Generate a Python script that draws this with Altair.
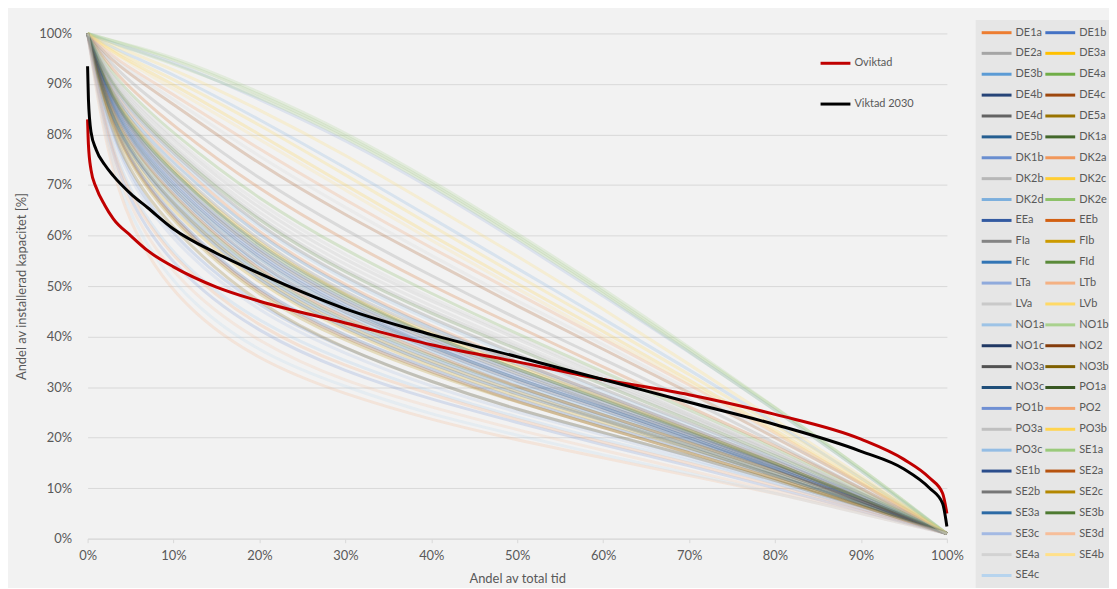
import altair as alt
import pandas as pd

# x positions (share of total time, %) where the regional curves were read
X_PTS = [0, 3, 10, 20, 30, 40, 50, 60, 70, 80, 90, 100]

DE1a = [100, 87, 75, 60, 50, 42, 35, 28.5, 22, 15.5, 8.5, 1]
DE1b = [100, 84, 70, 55.5, 46, 38.5, 32, 26.5, 20.5, 14.5, 8, 1]
DE2a = [100, 89, 77, 63, 53, 45, 38, 31, 24, 17, 9, 1]
DE3a = [100, 86, 72.5, 58, 48, 40.5, 34, 28, 21.5, 15, 8, 1]
DE3b = [100, 82, 68, 53, 44, 37, 30.5, 25, 19.5, 13.5, 7.5, 1]
DE4a = [100, 91, 80, 67, 57, 48.5, 40.5, 33, 25.5, 18, 9.5, 1]
DE4b = [100, 85, 71, 56.5, 47, 39.5, 33, 27, 21, 14.5, 8, 1]
DE4c = [100, 94, 86, 74, 64, 55, 46, 37.5, 29, 20, 11, 1]
DE4d = [100, 88, 76, 61.5, 51.5, 43.5, 36.5, 29.5, 23, 16, 8.5, 1]
DE5a = [100, 80.5, 65.5, 51, 42, 35, 29, 23.5, 18.5, 13, 7, 1]
DE5b = [100, 83, 69, 54.5, 45, 38, 31.5, 26, 20, 14, 7.5, 1]
DK1a = [100, 81, 67, 52, 43, 36, 30, 24.5, 19, 13.5, 7.5, 1]
DK1b = [100, 76, 59, 45.5, 37.5, 31, 25.5, 21, 16.5, 11.5, 6.5, 1]
DK2a = [100, 95, 88, 77, 67, 57.5, 48.5, 39.5, 30.5, 21, 11, 1]
DK2b = [100, 90, 78.5, 65, 55, 47, 39.5, 32, 24.5, 17.5, 9, 1]
DK2c = [100, 96, 90, 80, 70, 60, 50.5, 41, 31.5, 21.5, 11.5, 1]
DK2d = [100, 97, 92, 83, 73.5, 63.5, 53.5, 43.5, 33.5, 23, 12, 1]
DK2e = [100, 98.5, 95, 88, 80, 70.5, 60, 49, 37.5, 26, 14, 1]
EEa = [100, 79, 63, 48.5, 40, 33.5, 27.5, 22.5, 17.5, 12.5, 7, 1]
EEb = [100, 92, 81.5, 69, 59, 50, 42, 34, 26, 18.5, 10, 1]
FIa = [100, 93, 83.5, 71, 61, 52, 43.5, 35.5, 27.5, 19, 10, 1]
FIb = [100, 79.5, 64, 50, 41, 34, 28, 23, 18, 12.5, 7, 1]
FIc = [100, 86.5, 74, 59.5, 49.5, 41.5, 35, 28.5, 22, 15.5, 8.5, 1]
FId = [100, 85.5, 72, 57, 47.5, 40, 33.5, 27.5, 21.5, 15, 8, 1]
LTa = [100, 98, 94.5, 87, 79, 69.5, 59, 48, 37, 25.5, 13.5, 1]
LTb = [100, 67, 47, 35, 28.5, 23.5, 19.5, 16, 12.5, 9, 5, 1]
LVa = [100, 90.5, 79, 66, 56, 47.5, 40, 32.5, 25, 17.5, 9.5, 1]
LVb = [100, 97.5, 93, 85, 76, 66, 56, 45.5, 34.5, 23.5, 12.5, 1]
NO1a = [100, 73, 55, 42.5, 35, 29, 24, 19.5, 15.5, 11, 6, 1]
NO1b = [100, 98.5, 95.5, 88.5, 80.5, 71, 60.5, 49.5, 38, 26, 14, 1]
NO1c = [100, 82.5, 68.5, 53.5, 44.5, 37.5, 31, 25.5, 19.5, 14, 7.5, 1]
NO2 = [100, 78.5, 62.5, 48, 39.5, 33, 27, 22, 17, 12, 6.5, 1]
NO3a = [100, 84.5, 70.5, 56, 46.5, 39, 32.5, 26.5, 20.5, 14.5, 8, 1]
NO3b = [100, 76.5, 60.5, 46, 37.5, 31, 25.5, 21, 16.5, 11.5, 6.5, 1]
NO3c = [100, 80, 65, 50.5, 41.5, 34.5, 28.5, 23.5, 18, 12.5, 7, 1]
PO1a = [100, 85, 72, 57.5, 48, 40, 33.5, 27.5, 21, 15, 8, 1]
PO1b = [100, 71, 53, 40.5, 33, 27.5, 23, 18.5, 14.5, 10, 5.5, 1]
PO2 = [100, 72, 54.5, 41.5, 34, 28.5, 23.5, 19, 15, 10.5, 6, 1]
PO3a = [100, 89.5, 77.5, 64, 54, 46, 38.5, 31.5, 24.5, 17, 9, 1]
PO3b = [100, 96.5, 91, 82, 72, 62, 52, 42.5, 32.5, 22.5, 12, 1]
PO3c = [100, 87.5, 75.5, 61, 51, 43, 36, 29, 22.5, 16, 8.5, 1]
SE1a = [100, 98, 94, 87.5, 79.5, 70, 59.5, 48.5, 37, 25.5, 13.5, 1]
SE1b = [100, 83.5, 69.5, 55, 45.5, 38, 31.5, 26, 20, 14, 7.5, 1]
SE2a = [100, 81.5, 67.5, 52.5, 43.5, 36.5, 30, 24.5, 19, 13.5, 7.5, 1]
SE2b = [100, 86, 73, 58.5, 48.5, 41, 34.5, 28, 21.5, 15, 8, 1]
SE2c = [100, 78, 62, 47.5, 39, 32.5, 27, 22, 17, 12, 6.5, 1]
SE3a = [100, 80, 66, 51.5, 42.5, 35.5, 29.5, 24, 18.5, 13, 7, 1]
SE3b = [100, 88.5, 76.5, 62.5, 52.5, 44.5, 37.5, 30.5, 23.5, 16.5, 9, 1]
SE3c = [100, 75, 58, 44.5, 36.5, 30, 25, 20.5, 16, 11, 6, 1]
SE3d = [100, 70, 51, 38.5, 31, 26, 21.5, 17.5, 13.5, 9.5, 5.5, 1]
SE4a = [100, 94.5, 87, 75.5, 65.5, 56, 47, 38.5, 29.5, 20.5, 11, 1]
SE4b = [100, 96, 89, 79, 69, 59, 49.5, 40, 31, 21, 11, 1]
SE4c = [100, 68.5, 49, 36.5, 30, 24.5, 20.5, 16.5, 13, 9, 5, 1]

REGIONS = ["DE1a", "DE1b", "DE2a", "DE3a", "DE3b", "DE4a", "DE4b", "DE4c", "DE4d",
           "DE5a", "DE5b", "DK1a", "DK1b", "DK2a", "DK2b", "DK2c", "DK2d", "DK2e",
           "EEa", "EEb", "FIa", "FIb", "FIc", "FId", "LTa", "LTb", "LVa", "LVb",
           "NO1a", "NO1b", "NO1c", "NO2", "NO3a", "NO3b", "NO3c", "PO1a", "PO1b",
           "PO2", "PO3a", "PO3b", "PO3c", "SE1a", "SE1b", "SE2a", "SE2b", "SE2c",
           "SE3a", "SE3b", "SE3c", "SE3d", "SE4a", "SE4b", "SE4c"]
CURVES = [DE1a, DE1b, DE2a, DE3a, DE3b, DE4a, DE4b, DE4c, DE4d, DE5a, DE5b, DK1a,
          DK1b, DK2a, DK2b, DK2c, DK2d, DK2e, EEa, EEb, FIa, FIb, FIc, FId, LTa, LTb,
          LVa, LVb, NO1a, NO1b, NO1c, NO2, NO3a, NO3b, NO3c, PO1a, PO1b, PO2, PO3a,
          PO3b, PO3c, SE1a, SE1b, SE2a, SE2b, SE2c, SE3a, SE3b, SE3c, SE3d, SE4a,
          SE4b, SE4c]
COLORS = ["#ED7D31", "#4472C4", "#A5A5A5", "#FFC000", "#5B9BD5", "#70AD47",
          "#264478", "#9E480E", "#636363", "#997300", "#255E91", "#43682B",
          "#698ED0", "#F1975A", "#B7B7B7", "#FFCD33", "#7CAFDD", "#8CC168",
          "#335AA1", "#D26012", "#848484", "#CC9A00", "#3275B5", "#5A8A39",
          "#8FAADC", "#F4B183", "#C9C9C9", "#FFD966", "#9DC3E6", "#A9D18E",
          "#203864", "#843C0C", "#525252", "#7F6000", "#1F4E79", "#385723",
          "#6F8FD3", "#F4A46E", "#BFBFBF", "#FFD44F", "#94BDE4", "#9ACA7B",
          "#2B4D8C", "#B6530F", "#767676", "#B38700", "#2C6AA5", "#4E7A31",
          "#A3B9E3", "#F6BE9A", "#D2D2D2", "#FFE08A", "#B7D4EE"]

# bold aggregate curves
X_BOLD = [0, 0.1, 0.4, 1, 2, 3, 5, 7, 10, 15, 20, 30, 40, 50, 60, 70, 80, 90, 95, 98, 99.5, 100]
OVIKTAD = [83, 78, 73, 69.5, 66, 63.3, 60, 57, 53.8, 49.8, 47, 42.7, 38.4, 35, 31.5,
           28.5, 24.6, 19.7, 15.7, 12, 9, 5]
VIKTAD_2030 = [93.5, 87, 80.5, 77, 74, 71.8, 68.3, 65.5, 61.3, 56.5, 52.5, 45.5, 40.4, 36,
               31.5, 27, 22.6, 17.3, 13.8, 10, 7, 2.4]
BOLD_NAMES = ["Oviktad", "Viktad 2030"]
BOLD_COLORS = ["#C00000", "#000000"]

rows = []
for name, ys in zip(REGIONS, CURVES):
    for x, y in zip(X_PTS, ys):
        rows.append({"region": name, "x": x, "y": y})
df_regions = pd.DataFrame(rows)

bold_rows = []
for name, ys in zip(BOLD_NAMES, [OVIKTAD, VIKTAD_2030]):
    for x, y in zip(X_BOLD, ys):
        bold_rows.append({"series": name, "x": x, "y": y})
df_bold = pd.DataFrame(bold_rows)

# the legend is filled column by column, so order entries to read row by row
LEG_DOMAIN = REGIONS[0::2] + REGIONS[1::2]
LEG_RANGE = COLORS[0::2] + COLORS[1::2]

FONT = "Lato"
TXT = "#595959"
TICKS = list(range(0, 101, 10))

x_enc = alt.X(
    "x:Q",
    scale=alt.Scale(domain=[0, 100], nice=False, zero=False),
    axis=alt.Axis(values=TICKS, labelExpr="datum.value + '%'", title="Andel av total tid",
                  grid=False, domainColor="#d9d9d9", tickColor="#d9d9d9", tickSize=4,
                  labelFlush=False, labelPadding=7, labelFontSize=13, labelColor=TXT,
                  labelFont=FONT, titleFont=FONT, titleFontSize=13,
                  titleFontWeight="normal", titleColor=TXT,
                  titleY=40, titleBaseline="middle"),
)
y_enc = alt.Y(
    "y:Q",
    scale=alt.Scale(domain=[0, 100], nice=False),
    axis=alt.Axis(values=TICKS, labelExpr="datum.value + '%'",
                  title="Andel av installerad kapacitet [%]",
                  grid=True, gridColor="#d9d9d9", domain=False, ticks=False,
                  labelFlush=False, labelPadding=16, labelFontSize=13, labelColor=TXT,
                  labelFont=FONT, titleFont=FONT, titleFontSize=13,
                  titleFontWeight="normal", titleColor=TXT,
                  titleX=-66, titleY=254, titleBaseline="middle"),
)

SYMBOL = "M-1.3,0H4.7"

regions = alt.Chart(df_regions).mark_line(
    interpolate="basis", strokeWidth=3, opacity=0.22
).encode(
    x=x_enc,
    y=y_enc,
    color=alt.Color(
        "region:N",
        scale=alt.Scale(domain=LEG_DOMAIN, range=LEG_RANGE),
        legend=alt.Legend(
            orient="none", legendX=893, legendY=-13.5, columns=2, title=None,
            symbolType=SYMBOL, symbolSize=100, symbolStrokeWidth=3, symbolOpacity=1,
            symbolLimit=100, labelOffset=21, labelFont=FONT, labelFontSize=11,
            labelColor=TXT, rowPadding=8, columnPadding=-7, padding=6,
            fillColor="#e6e6e6", labelLimit=200,
        ),
    ),
)

bold = alt.Chart(df_bold).mark_line(interpolate="monotone", strokeWidth=3).encode(
    x=alt.X("x:Q"),
    y=alt.Y("y:Q"),
    color=alt.Color(
        "series:N",
        scale=alt.Scale(domain=BOLD_NAMES, range=BOLD_COLORS),
        legend=alt.Legend(
            orient="none", legendX=737, legendY=23.5, title=None,
            symbolType=SYMBOL, symbolSize=100, symbolStrokeWidth=3, symbolOpacity=1,
            labelOffset=21, labelFont=FONT, labelFontSize=11, labelColor=TXT,
            rowPadding=28,
        ),
    ),
)

chart = alt.layer(regions, bold).resolve_scale(color="independent").properties(
    width=864,
    height=508,
    autosize=alt.AutoSizeParams(type="none"),
    padding={"left": 80, "top": 24, "right": 163, "bottom": 48},
).configure(background="#f2f2f2").configure_view(strokeWidth=0)

chart.save("out.html", embed_options={"renderer": "svg", "actions": False})
